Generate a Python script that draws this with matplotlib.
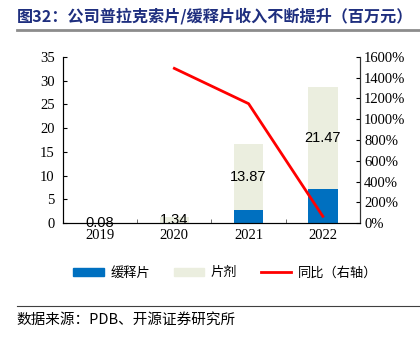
import numpy as np
import matplotlib
matplotlib.use("Agg")
import matplotlib.pyplot as plt
from matplotlib.patches import Patch
from matplotlib.lines import Line2D

plt.rcParams['font.family'] = ['Liberation Serif', 'Noto Sans CJK SC']

years = ['2019', '2020', '2021', '2022']
sustained = [0.0, 0.0, 2.7, 7.1]        # 缓释片
tablets = [0.08, 1.34, 13.87, 21.47]    # 片剂
yoy_years = [1, 2, 3]
yoy = [1490, 1150, 65]                  # 同比 (%)

blue = '#0070C0'
beige = '#EBEEDF'
red = '#FF0000'
cjk = ['Noto Sans CJK SC', 'DejaVu Sans']

fig = plt.figure(figsize=(4.2, 3.39), dpi=100)
ax = fig.add_axes([0.15, 0.342, 0.707, 0.49])

x = np.arange(len(years))
ax.bar(x, sustained, width=0.4, color=blue, zorder=2)
ax.bar(x, tablets, width=0.4, bottom=sustained, color=beige, zorder=2)
for xi, b, t in zip(x, sustained, tablets):
    ax.text(xi, b + t / 2, f'{t:.2f}', ha='center', va='center',
            fontsize=10.5, family='Liberation Sans', zorder=5)

ax.set_xlim(-0.5, 3.5)
ax.set_ylim(0, 35)
ax.set_yticks(range(0, 36, 5))
ax.set_xticks(x)
ax.set_xticklabels(years)
ax.set_xticks([0.5, 1.5, 2.5], minor=True)
ax.tick_params(axis='x', which='major', length=0, pad=4, labelsize=10.5)
ax.tick_params(axis='x', which='minor', direction='in', length=3, color='#555555')
ax.tick_params(axis='y', direction='in', length=3, labelsize=10.5, pad=6)
ax.spines['top'].set_visible(False)
for s in ['left', 'bottom', 'right']:
    ax.spines[s].set_color('#333333')
    ax.spines[s].set_linewidth(0.8)

ax2 = ax.twinx()
ax2.plot(yoy_years, yoy, color=red, lw=2, zorder=6)
ax2.set_ylim(0, 1600)
ax2.set_yticks(range(0, 1601, 200))
ax2.set_yticklabels([f'{v}%' for v in range(0, 1601, 200)])
ax2.tick_params(axis='y', direction='in', length=3, labelsize=10.5, pad=3)
ax2.spines['top'].set_visible(False)
ax2.spines['right'].set_color('#333333')
ax2.spines['right'].set_linewidth(0.8)

handles = [Patch(color=blue), Patch(color=beige), Line2D([0], [0], color=red, lw=2)]
fig.legend(handles, ['缓释片', '片剂', '同比（右轴）'], loc='center',
           bbox_to_anchor=(0.537, 0.195), ncol=3, frameon=False,
           prop={'family': cjk, 'size': 9.5}, handlelength=2.3,
           handleheight=0.6, columnspacing=1.8, handletextpad=0.5)

fig.text(0.04, 0.952, '图32：公司普拉克索片/缓释片收入不断提升（百万元）',
         family=cjk, fontsize=11.6, fontweight='bold', color='#1F2F7F',
         va='center', ha='left')
fig.add_artist(Line2D([0.04, 1.0], [0.911, 0.911], color='#8C8C8C', lw=2))
fig.add_artist(Line2D([0.04, 1.0], [0.097, 0.097], color='#404040', lw=0.8))
fig.text(0.04, 0.056, '数据来源：PDB、开源证券研究所', family=cjk, fontsize=10.5,
         va='center', ha='left')

fig.savefig('out.png', dpi=100)
